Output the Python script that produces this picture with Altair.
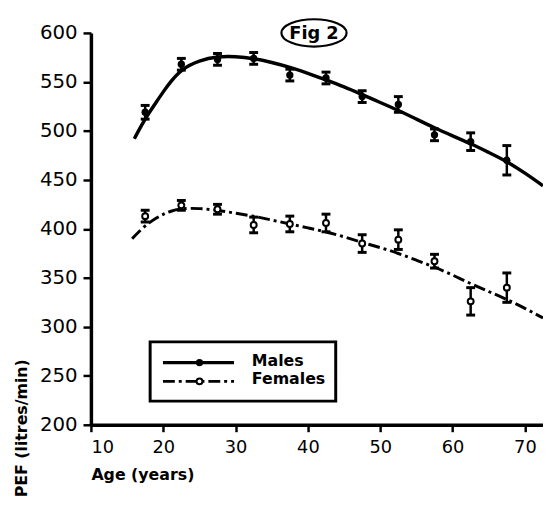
import altair as alt
import pandas as pd

# ---- data ----
ages = [17.5, 22.5, 27.5, 32.5, 37.5, 42.5, 47.5, 52.5, 57.5, 62.5, 67.5]
male_pef = [519, 568, 573, 574, 557, 554, 535, 527, 496, 489, 470]
male_err = [7, 6, 6, 6, 6, 6, 6, 8, 6, 9, 15]
female_pef = [413, 424, 420, 404, 405, 406, 385, 389, 367, 326, 340]
female_err = [6, 5, 5, 8, 8, 9, 9, 10, 7, 14, 15]

male_fit_age = [16, 17, 18, 19, 20, 21, 22.5, 25, 27.5, 30, 32.5, 35, 37.5, 40, 42.5,
                45, 47.5, 50, 52.5, 55, 57.5, 60, 62.5, 65, 67.5, 70, 72.5]
male_fit_pef = [492, 506, 518, 529, 540, 550, 563, 572, 576, 576, 574, 570, 565, 559, 552,
                545, 537, 529, 521, 512, 503, 495, 487, 478, 469, 457, 444]
female_fit_age = [15.7, 17, 18, 19, 20, 21, 22.5, 25, 27.5, 30, 32.5, 35, 37.5, 40, 42.5,
                  45, 47.5, 50, 52.5, 55, 57.5, 60, 62.5, 65, 67.5, 70, 72.5]
female_fit_pef = [390, 400, 406, 411, 415, 418, 421, 421, 419, 416, 413, 409, 405, 401, 397,
                  392, 386, 381, 375, 368, 361, 353, 344, 336, 328, 319, 309]

x_ticks = [10, 20, 30, 40, 50, 60, 70]
y_ticks = [200, 250, 300, 350, 400, 450, 500, 550, 600]
legend_labels = ["Males", "Females"]
fig_label = "Fig 2"

FONT = "DejaVu Sans"

pts = pd.DataFrame({
    "age": ages * 2,
    "pef": male_pef + female_pef,
    "err": male_err + female_err,
    "sex": ["Males"] * len(ages) + ["Females"] * len(ages),
})
fits = pd.DataFrame({
    "age": male_fit_age + female_fit_age,
    "pef": male_fit_pef + female_fit_pef,
    "sex": ["Males"] * len(male_fit_age) + ["Females"] * len(female_fit_age),
})

xs = alt.Scale(domain=[10, 72.5], nice=False, zero=False)
ys = alt.Scale(domain=[200, 600], nice=False, zero=False)

X = alt.X("age:Q", scale=xs, axis=alt.Axis(
    values=x_ticks, title="Age (years)", titleAnchor="start", titleAlign="left",
    titleX=0, titleY=55, titleBaseline="alphabetic", labelFontSize=18,
    labelPadding=7, tickSize=7))
Y = alt.Y("pef:Q", scale=ys, axis=alt.Axis(
    values=y_ticks, title="PEF (litres/min)", titleAngle=270, titleAlign="left",
    titleX=-65, titleY=470, titleBaseline="alphabetic", labelFontSize=20,
    labelPadding=6, tickSize=8))

dash = [12, 4, 3, 4]

male_line = alt.Chart(fits).transform_filter("datum.sex == 'Males'").mark_line(
    color="black", strokeWidth=3.5, interpolate="basis").encode(x=X, y=Y)
female_line = alt.Chart(fits).transform_filter("datum.sex == 'Females'").mark_line(
    color="black", strokeWidth=3, strokeDash=dash, interpolate="basis").encode(x=X, y=Y)

err_base = alt.Chart(pts).transform_calculate(
    lo="datum.pef - datum.err", hi="datum.pef + datum.err")
bars = err_base.mark_rule(color="black", strokeWidth=2.5, opacity=1).encode(
    x=alt.X("age:Q", scale=xs), y=alt.Y("lo:Q", scale=ys), y2="hi:Q")
cap_lo = err_base.mark_tick(color="black", orient="horizontal", size=9, thickness=3,
                            opacity=1).encode(
    x=alt.X("age:Q", scale=xs), y=alt.Y("lo:Q", scale=ys))
cap_hi = err_base.mark_tick(color="black", orient="horizontal", size=9, thickness=3,
                            opacity=1).encode(
    x=alt.X("age:Q", scale=xs), y=alt.Y("hi:Q", scale=ys))

male_pts = alt.Chart(pts).transform_filter("datum.sex == 'Males'").mark_point(
    shape="circle", filled=True, color="black", opacity=1, size=55).encode(x=X, y=Y)
female_pts = alt.Chart(pts).transform_filter("datum.sex == 'Females'").mark_point(
    shape="circle", filled=True, fill="white", stroke="black", strokeWidth=2,
    opacity=1, size=36).encode(x=X, y=Y)

one = pd.DataFrame({"k": [0]})
leg_box = alt.Chart(one).mark_rect(fill="white", stroke="black", strokeWidth=3).encode(
    x=alt.value(60), x2=alt.value(248), y=alt.value(313), y2=alt.value(373))
leg_m_line = alt.Chart(one).mark_rule(color="black", strokeWidth=3.5).encode(
    x=alt.value(73), x2=alt.value(145), y=alt.value(334))
leg_f_line = alt.Chart(one).mark_rule(color="black", strokeWidth=3, strokeDash=dash).encode(
    x=alt.value(73), x2=alt.value(145), y=alt.value(353))
leg_m_pt = alt.Chart(one).mark_point(shape="circle", filled=True, color="black",
                                      opacity=1, size=55).encode(x=alt.value(110), y=alt.value(334))
leg_f_pt = alt.Chart(one).mark_point(shape="circle", filled=True, fill="white", stroke="black",
                                      strokeWidth=2, opacity=1, size=36).encode(
    x=alt.value(110), y=alt.value(353))
leg_m_txt = alt.Chart(one).mark_text(align="left", baseline="middle", fontSize=16,
                                      fontWeight="bold", font=FONT, color="black").encode(
    x=alt.value(163), y=alt.value(332), text=alt.value(legend_labels[0]))
leg_f_txt = alt.Chart(one).mark_text(align="left", baseline="middle", fontSize=16,
                                      fontWeight="bold", font=FONT, color="black").encode(
    x=alt.value(163), y=alt.value(351), text=alt.value(legend_labels[1]))

ellipse = "M -1 0 A 1 0.42 0 1 0 1 0 A 1 0.42 0 1 0 -1 0 Z"
fig_oval = alt.Chart(one).mark_point(shape=ellipse, filled=False, color="black",
                                      strokeWidth=2.2, opacity=1, size=4356).encode(
    x=alt.value(226), y=alt.value(0))
fig_txt = alt.Chart(one).mark_text(align="center", baseline="middle", fontSize=18,
                                    fontWeight="bold", font=FONT, color="black").encode(
    x=alt.value(226), y=alt.value(1), text=alt.value(fig_label))

chart = alt.layer(
    male_line, female_line, bars, cap_lo, cap_hi, male_pts, female_pts,
    leg_box, leg_m_line, leg_f_line, leg_m_pt, leg_f_pt, leg_m_txt, leg_f_txt,
    fig_oval, fig_txt,
).properties(
    width=458, height=397,
    autosize=alt.AutoSizeParams(type="none"),
    padding={"left": 84, "top": 22, "right": 0, "bottom": 78},
    background="white",
).configure_view(stroke=None).configure_axis(
    labelFont=FONT, titleFont=FONT, labelColor="black", titleColor="black",
    domainColor="black", tickColor="black", domainWidth=3.5, tickWidth=2.5,
    grid=False, titleFontSize=16, titleFontWeight="bold", labelFontWeight="normal",
)

chart.save("out.html", embed_options={"renderer": "svg", "actions": False})
